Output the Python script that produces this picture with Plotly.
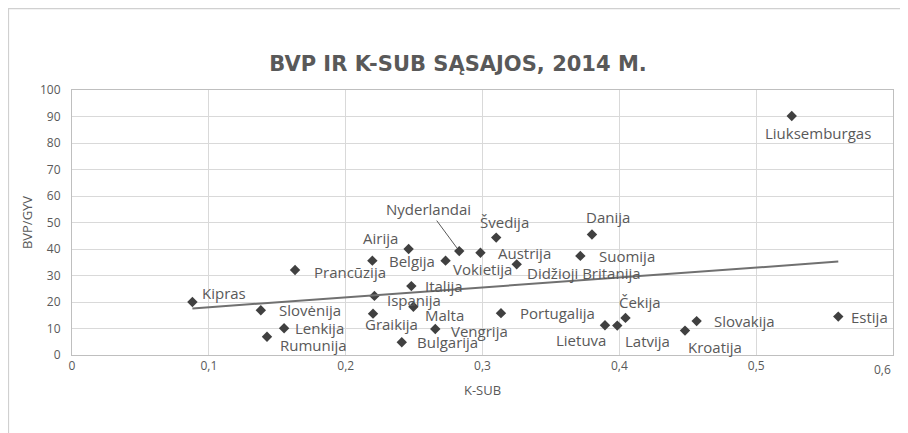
import plotly.graph_objects as go
import numpy as np


# ---------------------------------------
# Data
# ---------------------------------------

countries = [
    "Kipras", "Slovėnija", "Lenkija", "Rumunija", "Prancūzija",
    "Belgija", "Airija", "Nyderlandai", "Švedija", "Austrija",
    "Vokietija", "Didžioji Britanija", "Danija", "Suomija", "Italija",
    "Ispanija", "Malta", "Graikija", "Portugalija", "Vengrija",
    "Bulgarija", "Liuksemburgas", "Čekija", "Lietuva", "Latvija",
    "Slovakija", "Kroatija", "Estija"
]

k_sub = [
    0.088, 0.138, 0.155, 0.1425, 0.163,
    0.2195, 0.246, 0.283, 0.310, 0.2985,
    0.273, 0.325, 0.380, 0.3715, 0.248,
    0.221, 0.2495, 0.220, 0.3135, 0.2655,
    0.241, 0.526, 0.4045, 0.3895, 0.3985,
    0.4565, 0.448, 0.560
]

bvp = [
    20.0, 16.9, 10.1, 6.9, 32.1,
    35.6, 40.0, 39.2, 44.3, 38.6,
    35.6, 34.2, 45.5, 37.4, 26.0,
    22.3, 18.2, 15.6, 15.8, 9.8,
    4.8, 90.2, 14.0, 11.2, 11.1,
    12.8, 9.2, 14.5
]

x_ticks = [0, 0.1, 0.2, 0.3, 0.4, 0.5]

# label offsets (pixels, label centre relative to marker; y up)
label_dx = [
    32, 49, 35, 47, 55,
    40, -28, -31, 8, 44,
    37, 67, 16, 47, 33,
    40, 31, 18, 57, 44,
    46, 26, 15, -24, 30,
    48, 30, 31
]

label_dy = [
    9, 0, 0, -8, -2,
    0, 11, 42, 16, 0,
    -8, -9, 17, 0, 0,
    -4, -8, -10, 0, -2,
    0, -17, 16, -15, -15,
    0, -16, 0
]


# ---------------------------------------
# Trend line (least squares)
# ---------------------------------------

slope, intercept = np.polyfit(k_sub, bvp, 1)
trend_x = [min(k_sub), max(k_sub)]
trend_y = [slope * v + intercept for v in trend_x]

label_font = dict(family="Open Sans", size=15, color="#595959")

fig = go.Figure()

fig.add_trace(

    go.Scatter(

        x=k_sub,

        y=bvp,

        mode="markers",

        marker=dict(symbol="diamond", size=8, color="#404040"),

        showlegend=False

    )

)

fig.add_trace(

    go.Scatter(

        x=trend_x,

        y=trend_y,

        mode="lines",

        line=dict(color="#707070", width=2),

        showlegend=False

    )

)

for name, xv, yv, dx, dy in zip(countries, k_sub, bvp, label_dx, label_dy):

    if name == "Nyderlandai":

        fig.add_annotation(
            x=xv, y=yv, text=name,
            showarrow=True, arrowhead=0, arrowwidth=1,
            arrowcolor="#595959", ax=dx, ay=-dy, standoff=4,
            font=label_font
        )

    else:

        fig.add_annotation(
            x=xv, y=yv, text=name,
            showarrow=False, xshift=dx, yshift=dy,
            font=label_font
        )

# last x tick label sits inside the chart edge
fig.add_annotation(
    x=0.6, y=0, xref="x", yref="y", text="0,6",
    showarrow=False, xanchor="right", yanchor="top", yshift=-4,
    font=dict(family="Open Sans", size=12, color="#595959")
)


# chart frame
fig.add_shape(
    type="rect", xref="paper", yref="paper",
    x0=-0.0775, x1=1.2, y0=-0.5, y1=1.3075,
    line=dict(color="#d0d0d0", width=1.5)
)

fig.update_layout(

    title=dict(
        text="<b>BVP IR K-SUB SĄSAJOS, 2014 M.</b>",
        x=0.5, xanchor="center", y=0.87, yanchor="middle",
        font=dict(family="DejaVu Sans", size=21, color="#595959")
    ),

    width=900,

    height=425,

    margin=dict(l=64, r=15, t=82, b=78, autoexpand=False),

    paper_bgcolor="white",

    plot_bgcolor="white",

    separators=", ",

    font=dict(family="Open Sans", size=12, color="#595959"),

    xaxis=dict(
        range=[0, 0.6], tickvals=x_ticks, tickformat=".1~f",
        showgrid=True, gridcolor="#d9d9d9", gridwidth=1,
        showline=True, linecolor="#bfbfbf", mirror=True,
        zeroline=False, ticks="", automargin=False,
        title=dict(text="K-SUB", font=dict(size=13), standoff=12)
    ),

    yaxis=dict(
        range=[0, 100], dtick=10,
        showgrid=True, gridcolor="#d9d9d9", gridwidth=1,
        showline=True, linecolor="#bfbfbf", mirror=True,
        zeroline=False, ticks="", automargin=False,
        ticklabelstandoff=8,
        title=dict(text="BVP/GYV", font=dict(size=13), standoff=4)
    )

)

fig.write_html("out.html")
